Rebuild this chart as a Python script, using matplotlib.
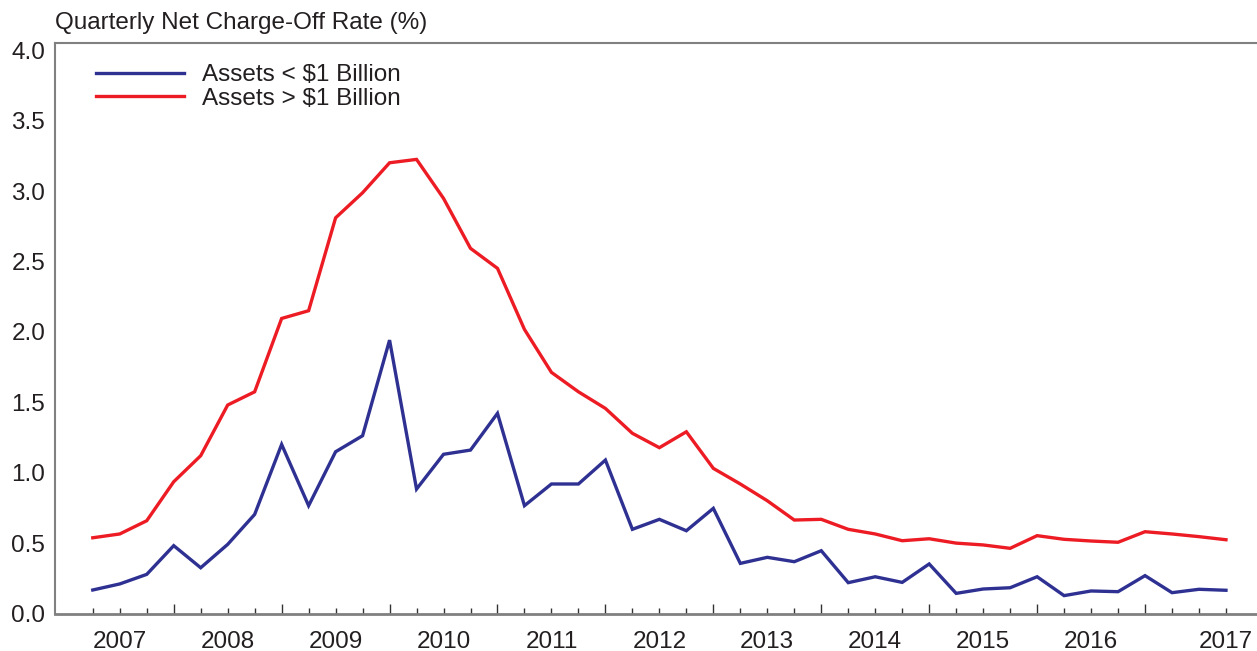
import numpy as np
import matplotlib
matplotlib.use("Agg")
import matplotlib.pyplot as plt

plt.rcParams['font.family'] = ['Liberation Sans', 'DejaVu Sans']

# quarterly series, 2007Q1 .. 2017Q3
quarters = [f"{y}Q{q}" for y in range(2007, 2018) for q in range(1, 5)][:43]

small_banks = [0.167, 0.210, 0.278, 0.482, 0.325, 0.491, 0.704, 1.201, 0.766, 1.149,
               1.263, 1.942, 0.884, 1.131, 1.161, 1.422, 0.766, 0.920, 0.920, 1.090,
               0.598, 0.669, 0.588, 0.747, 0.356, 0.399, 0.368, 0.446, 0.219, 0.261,
               0.221, 0.352, 0.143, 0.174, 0.183, 0.261, 0.127, 0.160, 0.155, 0.269,
               0.148, 0.172, 0.165]

large_banks = [0.538, 0.565, 0.659, 0.936, 1.121, 1.481, 1.575, 2.096, 2.151, 2.811,
               2.989, 3.202, 3.226, 2.949, 2.594, 2.452, 2.018, 1.713, 1.575, 1.457,
               1.280, 1.178, 1.291, 1.031, 0.920, 0.801, 0.664, 0.669, 0.598, 0.565,
               0.517, 0.531, 0.500, 0.487, 0.463, 0.553, 0.527, 0.515, 0.506, 0.581,
               0.565, 0.546, 0.524]

years = list(range(2007, 2018))
yticks = [0.0, 0.5, 1.0, 1.5, 2.0, 2.5, 3.0, 3.5, 4.0]

BLUE = '#2e3192'
RED = '#ed1c24'
TXT = '#231f20'
FS = 17.5

fig = plt.figure(figsize=(12.57, 6.51), dpi=100)
ax = fig.add_axes([55 / 1257, 1 - 613.5 / 651, 1 - 55 / 1257, (613.5 - 42.7) / 651])

x = np.arange(len(quarters))
ax.plot(x, small_banks, color=BLUE, lw=2.4, label='Assets < $1 Billion', solid_joinstyle='miter')
ax.plot(x, large_banks, color=RED, lw=2.4, label='Assets > $1 Billion', solid_joinstyle='miter')

ax.set_xlim(-1.4, 43.15)
ax.set_ylim(0, 4.055)

# y axis: labels only
ax.set_yticks(yticks)
ax.set_yticklabels([f"{v:.1f}" for v in yticks], fontsize=FS, color=TXT)
ax.tick_params(axis='y', length=0, pad=7)

# x axis: long ticks at each Q4, short ticks at every quarter
q4 = [i for i, q in enumerate(quarters) if q.endswith('Q4')]
ax.set_xticks(q4)
ax.set_xticklabels([])
ax.set_xticks(x, minor=True)
ax.tick_params(axis='x', which='major', direction='in', length=7, width=1, color='#333333')
ax.tick_params(axis='x', which='minor', direction='in', length=4, width=1, color='#333333')

# year labels under the axis (the last year sits under its last quarter)
for yr in years:
    if yr == years[-1]:
        pos = len(quarters) - 1
    else:
        pos = quarters.index(f"{yr}Q2")
    ax.text(pos, -0.05, str(yr), transform=ax.get_xaxis_transform(),
            ha='center', va='center', fontsize=FS, color=TXT)

for side in ['left', 'top', 'bottom']:
    ax.spines[side].set_color('#808080')
    ax.spines[side].set_linewidth(1.5)
ax.spines['bottom'].set_linewidth(2)
ax.spines['right'].set_visible(False)

ax.legend(loc='upper left', bbox_to_anchor=(96 / 1257, 1 - 64 / 651),
          bbox_transform=fig.transFigure, frameon=False, fontsize=FS,
          handlelength=3.6, handletextpad=0.75, labelspacing=0.08,
          borderpad=0, borderaxespad=0, labelcolor=TXT)

fig.text(55 / 1257, 1 - 23 / 651, 'Quarterly Net Charge-Off Rate (%)',
         ha='left', va='center', fontsize=FS, color=TXT)

fig.savefig('out.png', dpi=100)
